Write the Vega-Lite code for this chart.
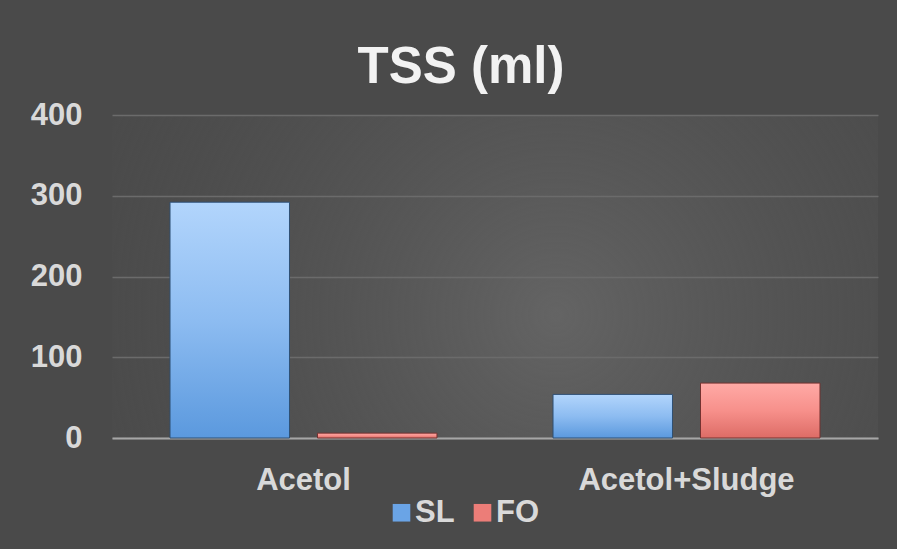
{
  "$schema": "https://vega.github.io/schema/vega-lite/v6.json",
  "width": 766,
  "height": 323,
  "autosize": {"type": "none"},
  "padding": {"left": 112, "top": 115, "right": 19, "bottom": 111},
  "background": "#4a4a4a",
  "title": {
    "text": "TSS (ml)",
    "font": "Liberation Sans",
    "fontSize": 51,
    "fontWeight": "bold",
    "color": "#f2f2f2",
    "anchor": "middle",
    "frame": "group",
    "dx": -34,
    "dy": 15,
    "offset": 20
  },
  "config": {
    "view": {
      "stroke": null,
      "fill": {
        "gradient": "radial",
        "x1": 0.58, "y1": 0.55, "r1": 0,
        "x2": 0.58, "y2": 0.55, "r2": 0.75,
        "stops": [
          {"offset": 0, "color": "rgba(100,100,100,1)"},
          {"offset": 1, "color": "rgba(74,74,74,0)"}
        ]
      }
    },
    "font": "Liberation Sans"
  },
  "data": {
    "values": [
      {"sample": "Acetol", "series": "SL", "value": 292},
      {"sample": "Acetol", "series": "FO", "value": 6},
      {"sample": "Acetol+Sludge", "series": "SL", "value": 54},
      {"sample": "Acetol+Sludge", "series": "FO", "value": 68}
    ]
  },
  "encoding": {
    "x": {
      "field": "sample",
      "type": "nominal",
      "sort": ["Acetol", "Acetol+Sludge"],
      "scale": {"paddingInner": 0.303, "paddingOuter": 0.1515},
      "axis": {
        "title": null,
        "labelAngle": 0,
        "labelLimit": 0,
        "ticks": false,
        "domain": true,
        "domainColor": "#a6a6a6",
        "domainWidth": 2,
        "labelFont": "Liberation Sans",
        "labelFontSize": 31,
        "labelFontWeight": "bold",
        "labelColor": "#d9d9d9",
        "labelPadding": 27
      }
    },
    "xOffset": {
      "field": "series",
      "type": "nominal",
      "sort": ["SL", "FO"],
      "scale": {"paddingInner": 0.19}
    },
    "y": {
      "field": "value",
      "type": "quantitative",
      "scale": {"domain": [0, 400], "nice": false},
      "axis": {
        "title": null,
        "values": [0, 100, 200, 300, 400],
        "grid": true,
        "gridColor": "#6b6b6b",
        "gridWidth": 1.5,
        "domain": false,
        "ticks": false,
        "labelFont": "Liberation Sans",
        "labelFontSize": 31,
        "labelFontWeight": "bold",
        "labelColor": "#d9d9d9",
        "labelPadding": 30
      }
    }
  },
  "layer": [
    {
      "mark": {"type": "bar"},
      "encoding": {
        "color": {
          "field": "series",
          "type": "nominal",
          "sort": ["SL", "FO"],
          "scale": {"range": ["#6aa4e6", "#ec7d78"]},
          "legend": {
            "title": null,
            "orient": "none",
            "direction": "horizontal",
            "legendX": 274,
            "legendY": 382,
            "padding": 0,
            "symbolType": "square",
            "symbolSize": 310,
            "symbolStrokeWidth": 0,
            "columnPadding": 12,
            "labelOffset": -2,
            "labelFont": "Liberation Sans",
            "labelFontSize": 31,
            "labelFontWeight": "bold",
            "labelColor": "#d9d9d9"
          }
        }
      }
    },
    {
      "transform": [{"filter": "datum.series === 'SL'"}],
      "mark": {
        "type": "bar",
        "stroke": "#2f4f73",
        "strokeWidth": 1,
        "fill": {
          "gradient": "linear",
          "x1": 0, "y1": 0, "x2": 0, "y2": 1,
          "stops": [
            {"offset": 0, "color": "#b2d5fc"},
            {"offset": 0.5, "color": "#8dbcf1"},
            {"offset": 1, "color": "#5b99de"}
          ]
        }
      }
    },
    {
      "transform": [{"filter": "datum.series === 'FO'"}],
      "mark": {
        "type": "bar",
        "stroke": "#733230",
        "strokeWidth": 1,
        "fill": {
          "gradient": "linear",
          "x1": 0, "y1": 0, "x2": 0, "y2": 1,
          "stops": [
            {"offset": 0, "color": "#ffaaa6"},
            {"offset": 0.5, "color": "#f7908b"},
            {"offset": 1, "color": "#dd6c66"}
          ]
        }
      }
    }
  ]
}
